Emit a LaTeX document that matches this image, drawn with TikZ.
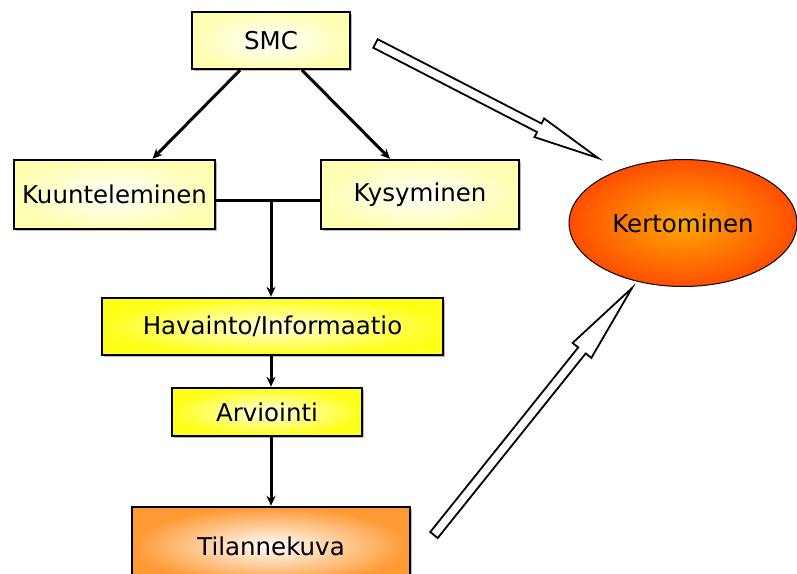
\documentclass[tikz,border=0pt]{standalone}
\usepackage{fontspec}
\setmainfont{DejaVu Sans}
\usetikzlibrary{arrows.meta,calc,shadows,shapes.geometric}

\definecolor{kertin}{RGB}{255,168,0}
\definecolor{kertout}{RGB}{255,78,0}

% hollow block arrow: tail, tip, head length, head half width
\newcommand{\hollowarrow}[4]{%
  \coordinate (hb) at ($(#2)!#3!(#1)$);
  \draw[line width=1.8pt,fill=white,line join=miter]
    ($(#1)!4.8pt!90:(#2)$) -- ($(hb)!4.8pt!90:(#2)$) -- ($(hb)!#4!90:(#2)$) -- (#2)
    -- ($(hb)!#4!-90:(#2)$) -- ($(hb)!4.8pt!-90:(#2)$) -- ($(#1)!4.8pt!-90:(#2)$) -- cycle;}

\begin{document}
\begin{tikzpicture}[x=1pt,y=-1pt,
    box/.style={draw=black,line width=2.4pt,inner sep=0pt,font=\fontsize{24.5}{28}\selectfont,
      drop shadow={shadow xshift=1.5pt,shadow yshift=-1.5pt,fill=black!45,opacity=.6}},
    pale/.style={box,inner color=white,outer color=yellow!30},
    bright/.style={box,inner color=yellow!12,outer color=yellow!90},
    warm/.style={box,inner color=white,outer color=orange!80},
    link/.style={line width=3pt,-{Stealth[length=10pt,width=9pt]}}]
    \useasboundingbox (0,0) rectangle (797,573);

    \node[pale,minimum width=158pt,minimum height=57pt] (smc) at (271,40.5) {SMC};
    \node[pale,minimum width=201pt,minimum height=69pt] (kuunt) at (114.5,194.5) {Kuunteleminen};
    \node[pale,minimum width=198pt,minimum height=69pt] (kysy) at (420,194.5) {Kysyminen};
    \node[bright,minimum width=341pt,minimum height=57pt] (hav) at (272.5,326.5) {Havainto/Informaatio};
    \node[bright,minimum width=190pt,minimum height=48pt] (arv) at (267,412) {Arviointi};
    \node[warm,minimum width=278pt,minimum height=78pt] (tilanne) at (271,546) {Tilannekuva};
    \node[ellipse,draw=black,line width=1pt,minimum width=228pt,minimum height=127pt,
      inner color=kertin,outer color=kertout,font=\fontsize{24.5}{28}\selectfont]
      (kert) at (683,223) {Kertominen};

    \draw[link] ([xshift=-31pt]smc.south) -- ([xshift=38pt]kuunt.north);
    \draw[link] ([xshift=31pt]smc.south) -- ([xshift=-30pt]kysy.north);

    \coordinate (jn) at (271,200);
    \draw[line width=3pt] ([yshift=-5.5pt]kuunt.east) -- ([yshift=-5.5pt]kysy.west);
    \draw[link] (jn) -- (jn |- hav.north);
    \draw[link] (jn |- hav.south) -- (jn |- arv.north);
    \draw[link] (jn |- arv.south) -- (jn |- tilanne.north);

    \coordinate (t1) at (375.5,43.5); \coordinate (p1) at (598,158);
    \hollowarrow{t1}{p1}{66pt}{10.5pt}
    \coordinate (t2) at (434,535); \coordinate (p2) at (632,288);
    \hollowarrow{t2}{p2}{80pt}{12pt}
\end{tikzpicture}
\end{document}
